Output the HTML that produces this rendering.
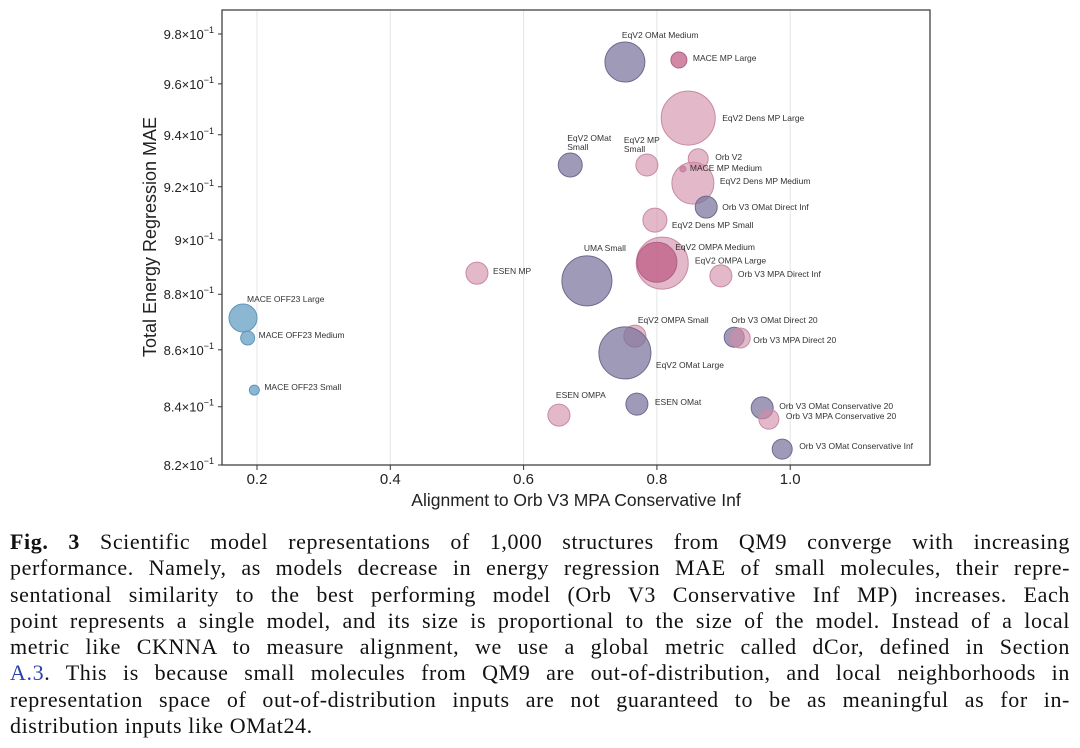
<!DOCTYPE html>
<html><head><meta charset="utf-8"><style>
body{margin:0;width:1080px;height:748px;background:#fff;overflow:hidden;font-family:"Liberation Sans",sans-serif}
#cap{position:absolute;left:10px;top:529px;width:1060px;font-family:"Liberation Serif",serif;font-size:22px;letter-spacing:0.6px;color:#111}
#cap div{height:26.3px;line-height:26.3px;text-align:justify;text-align-last:justify;white-space:nowrap}
#cap div.last{text-align-last:left}
</style></head><body>
<svg id="chart" width="1080" height="520" style="position:absolute;left:0;top:0"></svg>
<div id="cap">
<div><b>Fig. 3</b> Scientific model representations of 1,000 structures from QM9 converge with increasing</div>
<div>performance. Namely, as models decrease in energy regression MAE of small molecules, their repre-</div>
<div>sentational similarity to the best performing model (Orb V3 Conservative Inf MP) increases. Each</div>
<div>point represents a single model, and its size is proportional to the size of the model. Instead of a local</div>
<div>metric like CKNNA to measure alignment, we use a global metric called dCor, defined in Section</div>
<div><span style="color:#2a3fb0">A.3</span>. This is because small molecules from QM9 are out-of-distribution, and local neighborhoods in</div>
<div>representation space of out-of-distribution inputs are not guaranteed to be as meaningful as for in-</div>
<div class="last">distribution inputs like OMat24.</div>
</div>
<script>
const names=["EqV2 OMat Medium","MACE MP Large","EqV2 Dens MP Large","EqV2 OMat|Small","EqV2 MP|Small","Orb V2","MACE MP Medium","EqV2 Dens MP Medium","Orb V3 OMat Direct Inf","EqV2 Dens MP Small","EqV2 OMPA Medium","EqV2 OMPA Large","UMA Small","ESEN MP","Orb V3 MPA Direct Inf","MACE OFF23 Large","MACE OFF23 Medium","MACE OFF23 Small","EqV2 OMPA Small","EqV2 OMat Large","Orb V3 OMat Direct 20","Orb V3 MPA Direct 20","ESEN OMPA","ESEN OMat","Orb V3 OMat Conservative 20","Orb V3 MPA Conservative 20","Orb V3 OMat Conservative Inf"];
const alignment=[0.752,0.833,0.847,0.670,0.785,0.862,0.839,0.854,0.874,0.797,0.808,0.800,0.695,0.530,0.896,0.179,0.186,0.196,0.767,0.752,0.916,0.925,0.653,0.770,0.958,0.968,0.988];
const mae=[0.9687,0.9695,0.9465,0.9283,0.9283,0.9307,0.9268,0.9214,0.9123,0.9074,0.8914,0.8917,0.8849,0.8877,0.8867,0.8714,0.8642,0.8458,0.8649,0.8589,0.8645,0.8642,0.8371,0.8409,0.8396,0.8357,0.8254];
const sizes=[20,8,27,12,11,10,3,21,11,12,26,20,25,11,11,14,7,5,11,26,10,10,11,11,11,10,10];
const groups=["o","k","p","o","p","p","k","p","o","p","p","k","o","p","p","b","b","b","p","o","o","p","p","o","o","p","o"];
const xTicks=[0.2,0.4,0.6,0.8,1.0];
const xTickLabels=["0.2","0.4","0.6","0.8","1.0"];
const yTicks=[0.82,0.84,0.86,0.88,0.90,0.92,0.94,0.96,0.98];
const yTickLabels=["8.2","8.4","8.6","8.8","9","9.2","9.4","9.6","9.8"];
const labelDX=[-3,14,34,-3,-23,17,7,27,16,17,13,38,-3,16,17,4,11,10,3,31,-3,13,-3,18,17,17,17];
const labelDY=[-24,1,3,-24,-22,1,2,1,3,8,-13,1,-30,1,1,-16,0,0,-13,15,-14,5,-17,1,1,0,0];
const L=222,T=10,R=930,B=465;
const X=v=>257+(v-0.2)*666.5;
const Y=v=>465-Math.log(v/0.82)*2418;
const svg=document.getElementById('chart');const NS="http://www.w3.org/2000/svg";
function mk(t,a,p){const e=document.createElementNS(NS,t);for(const k in a)e.setAttribute(k,a[k]);(p||svg).appendChild(e);return e;}
const fills={o:"rgba(120,115,155,0.72)",p:"rgba(210,140,168,0.62)",k:"rgba(190,90,130,0.72)",b:"rgba(110,165,200,0.8)"};
const strokes={o:"#6f6a90",p:"#c88aa4",k:"#b0608a",b:"#5f95b8"};
for(const v of xTicks){const g=mk('line',{x1:X(v),x2:X(v),y1:T,y2:B,stroke:"#e4e4e4","stroke-width":1});

const tk=mk('line',{x1:X(v),x2:X(v),y1:B,y2:B+5,stroke:"#333"});
}
const fr=mk('rect',{x:L,y:T,width:R-L,height:B-T,fill:"none",stroke:"#333","stroke-width":1.2});

xTicks.forEach((v,i)=>{const t=mk('text',{x:X(v),y:484,"font-size":15,"text-anchor":"middle",fill:"#222"});t.textContent=xTickLabels[i];
});
yTicks.forEach((v,i)=>{const tk=mk('line',{x1:L-4,x2:L,y1:Y(v),y2:Y(v),stroke:"#333"});

const t=mk('text',{x:L-8,y:Y(v)+5,"font-size":13,"text-anchor":"end",fill:"#222"});

const a=mk('tspan',{},t);a.textContent=yTickLabels[i]+"\u00d710";const b=mk('tspan',{dy:-6,"font-size":9},t);b.textContent="\u22121";});
names.forEach((n,i)=>{const cx=X(alignment[i]),cy=Y(mae[i]);
const c=mk('circle',{cx:cx,cy:cy,r:sizes[i],fill:fills[groups[i]],stroke:strokes[groups[i]],"stroke-width":1});

});
names.forEach((n,i)=>{const cx=X(alignment[i]),cy=Y(mae[i]);const parts=n.split('|');
parts.forEach((p,j)=>{const t=mk('text',{x:cx+labelDX[i],y:cy+labelDY[i]+j*9,"font-size":8.5,fill:"#333"});t.textContent=p;
});});
const xt=mk('text',{x:576,y:506,"font-size":17.5,"text-anchor":"middle",fill:"#222"});xt.textContent="Alignment to Orb V3 MPA Conservative Inf";

const yt=mk('text',{x:0,y:0,"font-size":18,"text-anchor":"middle",fill:"#222",transform:"translate(156,237) rotate(-90)"});yt.textContent="Total Energy Regression MAE";

</script>
</body></html>
